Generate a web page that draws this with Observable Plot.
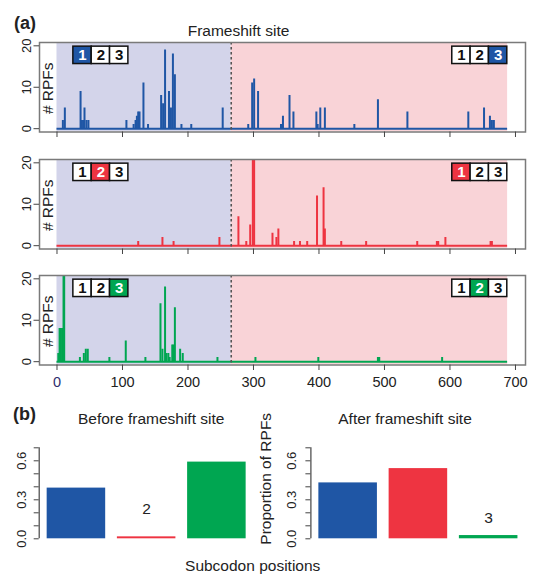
<!DOCTYPE html>
<html>
<head>
<meta charset="utf-8">
<script src="https://cdn.jsdelivr.net/npm/d3@7"></script>
<script src="https://cdn.jsdelivr.net/npm/@observablehq/plot@0.6"></script>
<style>
  body { margin: 0; background: #fff; }
  #fig { position: relative; width: 535px; height: 576px; overflow: hidden;
         font-family: "Liberation Sans", Arial, sans-serif; color: #222; }
  #fig > .p { position: absolute; }
  #fig > .t { position: absolute; line-height: 1; white-space: nowrap; }
</style>
</head>
<body>
<div id="fig"></div>
<script>
// ---------- data ----------
const frameshiftSite = 266;
const geneLength = 688;
const frameColors = ["#1f56a5", "#ee3441", "#00a651"];
const regionFills = ["#d3d4ea", "#f9d3d7"];

// [codon position, # RPFs] per subcodon frame
const frame1Spikes = [[9,2],[12,5],[36,9],[38,2],[40,2],[42,5],[45,2],[48,2],[106,2],[117,1],[120,2],[122,3],[124,4],[126,4],[132,11],[139,1],[159,8],[162,6],[165,19],[171,9],[174,5],[177,18],[180,13],[190,1],[205,1],[253,5],[292,1],[298,11],[301,12],[307,9],[342,1],[345,3],[355,8],[361,4],[396,4],[398,1],[402,5],[409,5],[454,1],[490,7],[535,4],[628,4],[652,5],[661,3],[664,2],[667,2]];
const frame2Spikes = [[124,1],[161,2],[178,1],[248,2],[277,7],[289,1],[295,5],[299,28],[301,24],[329,3],[335,2],[338,4],[362,1],[371,1],[382,1],[397,12],[407,14],[409,4],[434,1],[472,1],[550,1],[580,1],[582,1],[593,2],[662,1],[664,1]];
const frame3Spikes = [[2,2],[4,8],[6,8],[8,8],[10,25],[11,30],[35,1],[41,2],[44,3],[47,3],[80,1],[105,5],[135,1],[158,14],[161,3],[165,18],[167,2],[170,2],[172,1],[176,4],[178,4],[180,13],[188,3],[192,2],[245,1],[303,1],[399,1],[490,1],[491,1],[492,1],[588,1]];

const highlightBefore = [1, 2, 3];
const highlightAfter = [3, 1, 2];
const xTicks = [0, 100, 200, 300, 400, 500, 600, 700];
const yTicks = [0, 10, 20];

const subcodons = ["1", "2", "3"];
const beforeProportions = [0.39, 0.015, 0.59];
const afterProportions = [0.43, 0.54, 0.025];
const barTicks = [0, 0.1, 0.2, 0.3, 0.4, 0.5, 0.6, 0.7];
const barTickLabels = [0, 0.3, 0.6];

// ---------- layout ----------
const FONT = '"Liberation Sans", Arial, sans-serif';
const fig = document.getElementById("fig");

function place(node, left, top) {
  node.classList.add("p");
  node.style.left = left + "px";
  node.style.top = top + "px";
  fig.appendChild(node);
}
function label(text, {x, baseline, size, center = false, bold = false}) {
  const d = document.createElement("div");
  d.className = "t";
  d.textContent = text;
  d.style.fontSize = size + "px";
  d.style.fontWeight = bold ? "bold" : "normal";
  d.style.top = (baseline - 0.8465 * size) + "px";
  d.style.left = x + "px";
  if (center) d.style.transform = "translateX(-50%)";
  fig.appendChild(d);
}

function tracePanel(i, spikes, frameTop, showXLabels) {
  const color = frameColors[i];
  const marginTop = 4, frameH = 89.5, marginBottom = showXLabels ? 30 : 10;
  const cellW = 28, boxStarts = [25, 603.5];
  const cells = [];
  boxStarts.forEach((start, side) => {
    const hl = side === 0 ? highlightBefore[i] : highlightAfter[i];
    subcodons.forEach((s, k) => cells.push({x1: start + k * cellW, x2: start + (k + 1) * cellW, label: s, on: k + 1 === hl}));
  });
  const regions = [
    {a: 0, b: frameshiftSite, fill: regionFills[0]},
    {a: frameshiftSite, b: geneLength, fill: regionFills[1]}
  ];
  const spikeData = spikes.map(([pos, n]) => ({pos, n}));
  const svg = Plot.plot({
    width: 535,
    height: marginTop + frameH + marginBottom,
    marginTop, marginBottom, marginLeft: 39, marginRight: 10,
    style: {fontFamily: FONT, background: "transparent", color: "#222", overflow: "visible"},
    x: {domain: [-26.7, 715.3]},
    y: {domain: [-0.8, 20.8]},
    marks: [
      Plot.rect(regions, {x1: "a", x2: "b", fill: "fill"}),
      Plot.ruleY([{a: 0, b: geneLength}], {x1: "a", x2: "b", y: 0, stroke: color, strokeWidth: 2}),
      Plot.ruleX(spikeData, {x: "pos", y1: 0, y2: "n", stroke: color, strokeWidth: 2, clip: true}),
      Plot.ruleX([frameshiftSite], {stroke: "#555", strokeWidth: 1.6, strokeDasharray: "2.5,2.5"}),
      Plot.frame({stroke: "#7a7a7a", strokeWidth: 1.5}),
      Plot.rect(cells, {x1: "x1", x2: "x2", y1: 15.6, y2: 19.8, fill: d => d.on ? color : "white", stroke: "#111", strokeWidth: 1.5}),
      Plot.text(cells, {x: d => (d.x1 + d.x2) / 2, y: 17.7, text: "label", fill: d => d.on ? "white" : "#111", fontWeight: "bold", fontSize: 15}),
      Plot.text(["# RPFs"], {frameAnchor: "left", dx: 9, dy: 1, rotate: -90, textAnchor: "middle", lineAnchor: "middle", text: d => d, fontSize: 15.5, fill: "#222"}),
      Plot.axisY(yTicks, {label: null, tickSize: 5.5, tickPadding: 7, tickRotate: -90, textAnchor: "middle", lineAnchor: "middle", fontSize: 13, stroke: "#444", fill: "#222"}),
      showXLabels
        ? Plot.axisX(xTicks, {label: null, tickSize: 5.5, tickPadding: 6.5, fontSize: 14.5, stroke: "#444", fill: d => d === 0 ? "#2e2f6e" : "#222"})
        : Plot.axisX(xTicks, {label: null, tickSize: 5.5, tickFormat: () => "", stroke: "#444"})
    ]
  });
  place(svg, 0, frameTop - marginTop);
}

tracePanel(0, frame1Spikes, 42, false);
tracePanel(1, frame2Spikes, 159.4, false);
tracePanel(2, frame3Spikes, 275, true);

// bar charts
const barWidth = 1, barSpace = 0.2;
const barExtent = [barSpace, subcodons.length * (barWidth + barSpace)];
const barPad = 0.04 * (barExtent[1] - barExtent[0]);
const barDomain = [barExtent[0] - barPad, barExtent[1] + barPad];

function barChart(values, {left, width, marginLeft, marginRight, tickPadding, labelIndex, labelY, ylabel}) {
  const data = subcodons.map((s, i) => ({s, v: values[i], x1: barSpace + i * (barWidth + barSpace), x2: barSpace + i * (barWidth + barSpace) + barWidth, color: frameColors[i]}));
  const marks = [
    Plot.rect(data, {x1: "x1", x2: "x2", y1: 0, y2: "v", fill: "color"}),
    Plot.ruleX([barDomain[0]], {y1: 0, y2: barTicks[barTicks.length - 1], stroke: "#444", strokeWidth: 1.2}),
    Plot.axisY(barTicks, {label: null, tickSize: 5, tickPadding, tickRotate: -90, textAnchor: "middle", lineAnchor: "middle", fontSize: 13, stroke: "#444", fill: "#222",
      tickFormat: d => barTickLabels.some(t => Math.abs(t - d) < 1e-9) ? d.toFixed(1) : ""}),
    Plot.text([data[labelIndex]], {x: d => (d.x1 + d.x2) / 2, y: labelY, text: "s", fontSize: 15.5, fill: "#222", lineAnchor: "middle"})
  ];
  if (ylabel) marks.push(Plot.text([ylabel], {frameAnchor: "left", dx: -40.4, dy: -14.5, rotate: -90, textAnchor: "middle", lineAnchor: "bottom", text: d => d, fontSize: 15.5, fill: "#222"}));
  const svg = Plot.plot({
    width, height: 113, marginTop: 17.3, marginBottom: 4.7, marginLeft, marginRight,
    style: {fontFamily: FONT, background: "transparent", color: "#222", overflow: "visible"},
    x: {domain: barDomain, axis: null},
    y: {domain: [0, 0.7]},
    marks
  });
  place(svg, left, 430);
}

barChart(beforeProportions, {left: 0, width: 265, marginLeft: 38.7, marginRight: 11.4, tickPadding: 12.5, labelIndex: 1, labelY: 0.229});
barChart(afterProportions, {left: 265, width: 270, marginLeft: 45.4, marginRight: 9.6, tickPadding: 14.5, labelIndex: 2, labelY: 0.162, ylabel: "Proportion of RPFs"});

// titles
label("(a)", {x: 14, baseline: 29, size: 18, bold: true});
label("Frameshift site", {x: 238.5, baseline: 36.3, size: 15.5, center: true});
label("(b)", {x: 13, baseline: 420.5, size: 18, bold: true});
label("Before frameshift site", {x: 151.2, baseline: 424, size: 15.5, center: true});
label("After frameshift site", {x: 405, baseline: 424, size: 15.5, center: true});
label("Subcodon positions", {x: 252.7, baseline: 571, size: 15.5, center: true});
</script>
</body>
</html>
